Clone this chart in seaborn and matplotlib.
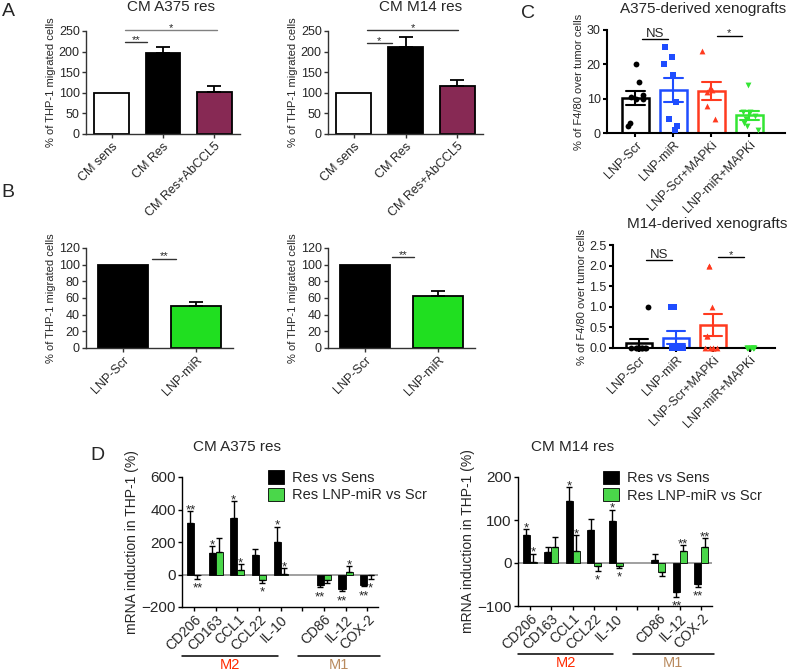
import numpy as np
import pandas as pd
import matplotlib
matplotlib.use("Agg")
import matplotlib.pyplot as plt
import seaborn as sns
from matplotlib.ticker import FormatStrFormatter

sns.set_theme(style="ticks")
plt.rcParams['font.family'] = ['Liberation Sans', 'DejaVu Sans']
np.random.seed(3)

# ---- data ----
# A: THP-1 migration with conditioned medium
a_groups = ['CM sens', 'CM Res', 'CM Res+AbCCL5']
a_colors = ['white', 'black', '#961a52']
a375_mig = [100, 197, 102]
a375_mig_err = [0, 14, 15]
m14_mig = [100, 210, 116]
m14_mig_err = [0, 25, 14]

# B: LNP treatment
b_groups = ['LNP-Scr', 'LNP-miR']
b_colors = ['black', '#00ff00']
b_a375 = [100, 51]
b_a375_err = [0, 4]
b_m14 = [100, 63]
b_m14_err = [0, 5]

# C: F4/80 in xenografts (individual mice)
c_groups = ['LNP-Scr', 'LNP-miR', 'LNP-Scr+MAPKi', 'LNP-miR+MAPKi']
c_colors = ['black', '#1f4dff', '#ff3a1f', '#33e533']
c_markers = ['o', 's', '^', 'v']
a375_scr = [20, 15, 10.5, 10, 11, 10, 2, 3]
a375_mir = [25, 22, 20, 17, 9, 4, 2, 1]
a375_scr_mapki = [24, 12.5, 12, 13, 8, 4]
a375_mir_mapki = [14, 6, 6, 5, 4, 3, 2, 1]
m14_scr = [1, 0, 0, 0, 0, 0, 0, 0, 0]
m14_mir = [1, 1, 0, 0, 0, 0, 0, 0]
m14_scr_mapki = [2, 2, 1, 0.3, 0.3, 0, 0, 0, 0, 0]
m14_mir_mapki = [0, 0, 0, 0, 0, 0, 0, 0]

# D: mRNA induction
d_genes = ['CD206', 'CD163', 'CCL1', 'CCL22', 'IL-10', 'CD86', 'IL-12', 'COX-2']
d_comps = ['Res vs Sens', 'Res LNP-miR vs Scr']
d_colors = ['black', '#33ee33']
d_a375_res = [320, 134, 346, 120, 202, -66, -87, -62]
d_a375_res_err = [68, 41, 104, 35, 93, 10, 13, 10]
d_a375_mir = [-5, 140, 30, -35, 3, -35, 15, -5]
d_a375_mir_err = [20, 87, 33, 15, 37, 20, 38, 20]
d_a375_res_sig = ['**', '*', '*', '', '*', '**', '**', '**']
d_a375_mir_sig = ['**', '', '*', '*', '*', '', '*', '*']
d_m14_res = [64, 26, 145, 77, 97, 8, -68, -49]
d_m14_res_err = [14, 12, 32, 26, 27, 12, 10, 6]
d_m14_mir = [2, 37, 29, -8, -7, -20, 27, 37]
d_m14_mir_err = [20, 24, 35, 10, 4, 10, 15, 20]
d_m14_res_sig = ['*', '', '*', '', '*', '', '**', '**']
d_m14_mir_sig = ['*', '', '*', '*', '*', '', '**', '**']

W, H = 787, 671
fig = plt.figure(figsize=(W / 100, H / 100), dpi=100)


def add_ax(l, t, r, b):
    return fig.add_axes([l / W, 1 - b / H, (r - l) / W, (b - t) / H])


def style(ax, lw=1.0, color='0.2', fs=9):
    sns.despine(ax=ax)
    for s in ['left', 'bottom']:
        ax.spines[s].set_linewidth(lw)
        ax.spines[s].set_color(color)
    ax.tick_params(labelsize=fs, length=3, width=lw, color=color, pad=1.5)
    ax.set_xlabel('')


def sig(ax, x0, x1, y, text, color='0.25', fs=8):
    ax.plot([x0, x1], [y, y], color=color, lw=1.0, clip_on=False)
    ax.annotate(text, ((x0 + x1) / 2, y), xytext=(0, 1.5 if text == 'NS' else -0.5),
                textcoords='offset points', ha='center', va='baseline',
                fontsize=fs + (1.5 if text == 'NS' else 0), annotation_clip=False)


def migration(ax, labels, vals, errs, colors, ylim, ystep):
    df = pd.DataFrame({'grp': labels, 'val': vals})
    sns.barplot(data=df, x='grp', y='val', hue='grp', palette=colors, legend=False,
                width=0.68, edgecolor='black', linewidth=1.3, errorbar=None, ax=ax)
    for i, (v, e) in enumerate(zip(vals, errs)):
        if e:
            ax.errorbar(i, v, yerr=[[0], [e]], fmt='none', ecolor='black',
                        elinewidth=1.3, capsize=5, capthick=1.3)
    ax.set_xlim(-0.5, len(labels) - 0.5)
    ax.set_ylim(*ylim)
    ax.set_yticks(np.arange(ylim[0], ylim[1] + 1, ystep))
    style(ax)
    ax.set_ylabel('% of THP-1 migrated cells', fontsize=8, labelpad=2)
    plt.setp(ax.get_xticklabels(), rotation=45, ha='right', rotation_mode='anchor')


def xeno(ax, series, ylim, yticks, fmt, title, tx, xlim):
    df = pd.DataFrame([(g, v) for g, s in zip(c_groups, series) for v in s],
                      columns=['grp', 'val'])
    sns.barplot(data=df, x='grp', y='val', hue='grp', order=c_groups, hue_order=c_groups,
                palette=c_colors, fill=False, errorbar='se', capsize=0.5,
                err_kws={'linewidth': 1.5}, linewidth=1.8, width=0.7, legend=False, ax=ax)
    for g, m, c in zip(c_groups, c_markers, c_colors):
        sns.stripplot(data=df[df.grp == g], x='grp', y='val', order=c_groups, marker=m,
                      color=c, size=4.2, jitter=0.25, linewidth=0, ax=ax, zorder=3)
    for coll in ax.collections:
        coll.set_clip_on(False)
    ax.set_xlim(*xlim)
    ax.set_ylim(*ylim)
    ax.set_yticks(yticks)
    ax.yaxis.set_major_formatter(FormatStrFormatter(fmt))
    style(ax, lw=1.5, color='black')
    ax.set_ylabel('% of F4/80 over tumor cells', fontsize=8, labelpad=2)
    ax.text(tx, 1.2, title, transform=ax.transAxes, ha='center', va='center', fontsize=11)
    plt.setp(ax.get_xticklabels(), rotation=45, ha='right', rotation_mode='anchor')


def mrna(ax, res, res_err, mir, mir_err, res_sig, mir_sig, ylim, ystep, title):
    order = d_genes[:5] + [' '] + d_genes[5:]
    df = pd.DataFrame({'gene': d_genes * 2,
                       'comp': [d_comps[0]] * 8 + [d_comps[1]] * 8,
                       'val': res + mir})
    ax.axhline(0, color='0.6', lw=1.3, zorder=0)
    sns.barplot(data=df, x='gene', y='val', hue='comp', order=order, hue_order=d_comps,
                palette=d_colors, width=0.65, edgecolor='black', linewidth=0.6,
                errorbar=None, ax=ax)
    offs = 0.65 / 4
    for j, (vals, errs, stars) in enumerate([(res, res_err, res_sig), (mir, mir_err, mir_sig)]):
        for g, v, e, s in zip(d_genes, vals, errs, stars):
            x = order.index(g) + (offs if j else -offs)
            up = v >= 0
            ax.errorbar(x, v, yerr=[[0], [e]] if up else [[e], [0]], fmt='none',
                        ecolor='black', elinewidth=1, capsize=2.2, capthick=1)
            if s:
                end = v + e if up else v - e
                ax.annotate(s, (x, end), xytext=(0, -1.5 if up else -9.5),
                            textcoords='offset points', ha='center', va='baseline',
                            fontsize=9.5)
    ax.set_xlim(-0.55, 8.5)
    ax.set_ylim(*ylim)
    ax.set_yticks(np.arange(ylim[0], ylim[1] + 1, ystep))
    style(ax, lw=1.0, color='black', fs=11)
    ax.tick_params(axis='x', labelsize=10, pad=1)
    ax.set_ylabel('mRNA induction in THP-1 (%)', fontsize=10, labelpad=2)
    plt.setp(ax.get_xticklabels(), rotation=45, ha='right', rotation_mode='anchor')
    h, l = ax.get_legend_handles_labels()
    ax.legend(h, l, loc='upper left', bbox_to_anchor=(0.44, 1.05), frameon=False,
              fontsize=10.5, handlelength=1.1, handleheight=1.0, borderaxespad=0,
              borderpad=0, labelspacing=0.2, handletextpad=0.5)
    ax.text(0.28, 1.23, title, transform=ax.transAxes, ha='center', va='center', fontsize=11)
    trans = ax.get_xaxis_transform()
    for x0, x1, name, col in [(-0.55, 3.9, 'M2', '#ff2a00'), (4.8, 8.6, 'M1', '#b98a5e')]:
        ax.plot([x0, x1], [-0.375, -0.375], transform=trans, color='black', lw=1.1, clip_on=False)
        ax.text((x0 + x1) / 2, -0.39, name, transform=trans, ha='center', va='top',
                color=col, fontsize=10.5)


# ---- panel A ----
axA1 = add_ax(86, 31, 240, 134)
migration(axA1, a_groups, a375_mig, a375_mig_err, a_colors, (0, 250), 50)
sig(axA1, 0.26, 0.69, 223, '**', color='0.2')
sig(axA1, 0.26, 2.05, 252, '*', color='0.5')
axA1.text(0.55, 1.23, 'CM A375 res', transform=axA1.transAxes, ha='center', va='center', fontsize=11)

axA2 = add_ax(328, 31, 483, 134)
migration(axA2, a_groups, m14_mig, m14_mig_err, a_colors, (0, 250), 50)
sig(axA2, 0.25, 0.74, 221, '*', color='0.2')
sig(axA2, 0.25, 2.02, 252, '*', color='0.2')
axA2.text(0.6, 1.23, 'CM M14 res', transform=axA2.transAxes, ha='center', va='center', fontsize=11)

# ---- panel B ----
axB1 = add_ax(86, 248, 233, 348)
migration(axB1, b_groups, b_a375, b_a375_err, b_colors, (0, 120), 20)
sig(axB1, 0.4, 0.72, 107, '**', color='0.2')

axB2 = add_ax(328, 248, 475, 348)
migration(axB2, b_groups, b_m14, b_m14_err, b_colors, (0, 120), 20)
sig(axB2, 0.37, 0.67, 109, '**', color='0.2')

# ---- panel C ----
axC1 = add_ax(607, 30, 785, 133)
xeno(axC1, [a375_scr, a375_mir, a375_scr_mapki, a375_mir_mapki], (0, 30), [0, 10, 20, 30],
     '%d', 'A375-derived xenografts', 0.54, (-0.75, 3.94))
sig(axC1, 0.16, 0.87, 27.4, 'NS', color='black')
sig(axC1, 2.14, 2.8, 28.3, '*', color='black')

axC2 = add_ax(613, 245, 775, 348)
xeno(axC2, [m14_scr, m14_mir, m14_scr_mapki, m14_mir_mapki], (0, 2.5),
     [0, 0.5, 1.0, 1.5, 2.0, 2.5], '%.1f', 'M14-derived xenografts', 0.58, (-0.7, 3.68))
sig(axC2, 0.2, 0.9, 2.14, 'NS', color='black')
sig(axC2, 2.15, 2.85, 2.21, '*', color='black')

# ---- panel D ----
axD1 = add_ax(182, 477, 378, 607)
mrna(axD1, d_a375_res, d_a375_res_err, d_a375_mir, d_a375_mir_err,
     d_a375_res_sig, d_a375_mir_sig, (-200, 600), 200, 'CM A375 res')

axD2 = add_ax(518, 477, 712, 606)
mrna(axD2, d_m14_res, d_m14_res_err, d_m14_mir, d_m14_mir_err,
     d_m14_res_sig, d_m14_mir_sig, (-100, 200), 100, 'CM M14 res')

# panel letters
for (x, y), letter in zip([(8, 12), (8, 192), (528, 13), (97, 456)], 'ABCD'):
    fig.text(x / W, 1 - y / H, letter, ha='center', va='center', fontsize=14)

fig.savefig('out.png', dpi=100)
